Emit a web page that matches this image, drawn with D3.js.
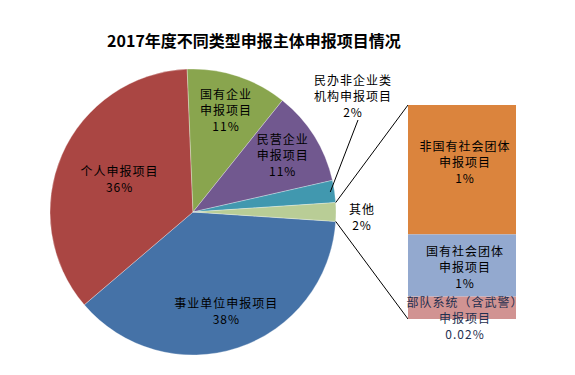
<!DOCTYPE html>
<html>
<head>
<meta charset="utf-8">
<script src="https://cdn.jsdelivr.net/npm/d3@7"></script>
<style>
  body { margin: 0; background: #fff; }
  text { font-family: "Noto Sans CJK SC", "DejaVu Sans", sans-serif; }
</style>
</head>
<body>
<svg id="chart"></svg>
<script>
// Data
const pieNames = ["事业单位申报项目", "个人申报项目", "国有企业\n申报项目", "民营企业\n申报项目", "民办非企业类\n机构申报项目"];
const pieValues = [37.7, 35.6, 11.4, 10.7, 2.5];
const pieLabels = ["38%", "36%", "11%", "11%", "2%"];
const pieColors = ["#4572A7", "#AA4643", "#89A54E", "#71588F", "#4198AF"];
const otherName = "其他";
const otherLabel = "2%";
const otherColor = "#B9CD96";
const barNames = ["非国有社会团体\n申报项目", "国有社会团体\n申报项目", "部队系统（含武警）\n申报项目"];
const barValues = [1.27, 0.61, 0.22];
const barLabels = ["1%", "1%", "0.02%"];
const barColors = ["#DB843D", "#93A9CF", "#D19392"];
const title = "2017年度不同类型申报主体申报项目情况";

// Configurations
const width = 575, height = 375;
const cx = 193, cy = 212, r = 143;
const barX = 408, barW = 108, barTop = 105, barBottom = 319;
const lineH = 16;

const svg = d3.select("#chart")
    .attr("width", width)
    .attr("height", height)
    .attr("viewBox", [0, 0, width, height]);

svg.append("text")
    .attr("x", 254)
    .attr("y", 47)
    .attr("text-anchor", "middle")
    .attr("font-size", 16)
    .attr("font-weight", "bold")
    .text(title);

// pie data, "other" slice is the sum of the bar items
const otherValue = d3.sum(barValues);
const data = pieNames.map((n, i) => ({name: n, value: pieValues[i], label: pieLabels[i], color: pieColors[i]}));
data.push({name: otherName, value: otherValue, label: otherLabel, color: otherColor});
const total = d3.sum(data, d => d.value);
const otherAngle = 2 * Math.PI * otherValue / total;
const a0 = Math.PI / 2 + otherAngle / 2;

const arcs = d3.pie().sort(null).value(d => d.value)
    .startAngle(a0).endAngle(a0 + 2 * Math.PI)(data);
const arc = d3.arc().innerRadius(0).outerRadius(r);

const g = svg.append("g").attr("transform", `translate(${cx},${cy})`);
g.selectAll("path")
    .data(arcs)
    .join("path")
    .attr("d", arc)
    .attr("fill", d => d.data.color)
    .attr("stroke", "#fff")
    .attr("stroke-opacity", 0.5)
    .attr("stroke-width", 0.6);

function multiText(parent, x, y, lines, color) {
    const t = parent.append("text")
        .attr("text-anchor", "middle")
        .attr("font-size", 12)
        .attr("letter-spacing", 1)
        .attr("fill", color || "#000");
    lines.forEach((s, i) => {
        t.append("tspan").attr("x", x).attr("y", y + i * lineH).text(s);
    });
    return t;
}

// inside labels
const labelRadius = [0.74, 0.56, 0.74, 0.74];
arcs.slice(0, 4).forEach((a, i) => {
    const rr = r * labelRadius[i];
    const [x, y] = d3.arc().innerRadius(rr).outerRadius(rr).centroid(a);
    const lines = a.data.name.split("\n").concat([a.data.label]);
    multiText(g, x, y - (lines.length - 1) * lineH / 2 + 4, lines);
});

// outside label with leader line
const small = arcs[4];
const mid = (small.startAngle + small.endAngle) / 2;
const p0 = [Math.sin(mid) * r * 0.97, -Math.cos(mid) * r * 0.97];
g.append("line")
    .attr("x1", p0[0]).attr("y1", p0[1])
    .attr("x2", 358 - cx).attr("y2", 120 - cy)
    .attr("stroke", "#000").attr("stroke-width", 1);
multiText(g, 353 - cx, 85 - cy, small.data.name.split("\n").concat([small.data.label]));

// "other" label
const oth = arcs[5];
multiText(g, r + 26, 4 - 2, [oth.data.name, oth.data.label]);

// connector lines from the other slice to the bar
const pt = a => [cx + r * Math.sin(a), cy - r * Math.cos(a)];
const y = d3.scaleLinear().domain([0, otherValue]).range([barBottom, barTop]);
const [tx, ty] = pt(oth.startAngle);
const [bx, by] = pt(oth.endAngle);
svg.append("line").attr("x1", tx).attr("y1", ty).attr("x2", barX).attr("y2", y(otherValue))
    .attr("stroke", "#000").attr("stroke-width", 1);
svg.append("line").attr("x1", bx).attr("y1", by).attr("x2", barX).attr("y2", y(0))
    .attr("stroke", "#000").attr("stroke-width", 1);

// stacked bar, first item on top
let acc = otherValue;
const stack = barValues.map((v, i) => {
    const top = acc;
    acc -= v;
    return {name: barNames[i], label: barLabels[i], color: barColors[i], y0: acc, y1: top};
});
svg.append("g")
    .selectAll("rect")
    .data(stack)
    .join("rect")
    .attr("x", barX)
    .attr("y", d => y(d.y1))
    .attr("width", barW)
    .attr("height", d => y(d.y0) - y(d.y1))
    .attr("fill", d => d.color);

const barLabelY = [151, 256, 307];
stack.forEach((d, i) => {
    const lines = d.name.split("\n").concat([d.label]);
    multiText(svg, barX + barW / 2 + 3, barLabelY[i], lines, i === 2 ? "#1F3050" : "#000");
});
</script>
</body>
</html>
